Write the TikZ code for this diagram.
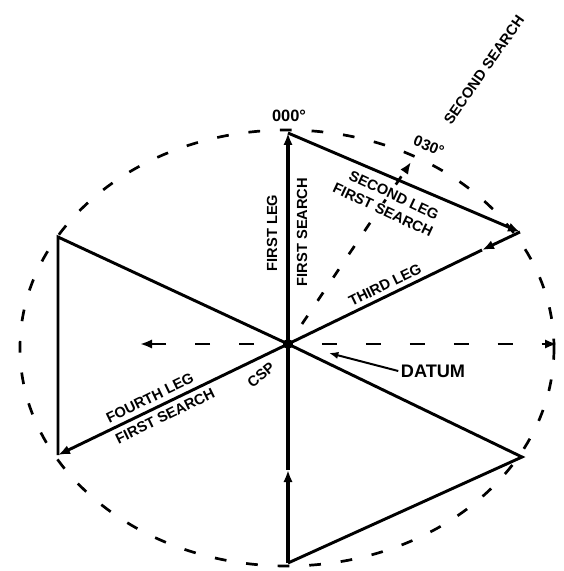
\documentclass[tikz,border=0pt]{standalone}
\usepackage{fontspec}
\setmainfont{Liberation Sans}
\usetikzlibrary{calc,arrows.meta}

\begin{document}
\begin{tikzpicture}[x=0.03cm,y=-0.03cm,line width=2.5pt,>={Latex[length=3.6mm,width=2.8mm]},
    rotulo/.style={font=\bfseries\fontsize{12.5}{13}\selectfont,inner sep=1pt},
    guia/.style={line width=2.3pt,dash pattern=on 12.8pt off 24.7pt,dash phase=8.5pt}]
  \useasboundingbox[fill=white] (0,0) rectangle (563,571);
  % circulo de busqueda
  \draw[line width=2.3pt,dash pattern=on 10pt off 17pt] (287,348) ellipse [x radius=267,y radius=218];
  % vertices del patron
  \coordinate (O) at (288,344);
  \coordinate (N) at (288,133);
  \coordinate (NE) at (520,232);
  \coordinate (SE) at (522,457);
  \coordinate (S) at (288,563);
  \coordinate (SW) at (58,455);
  \coordinate (NW) at (58,237);
  \coordinate (M1) at (288,470);
  \coordinate (M2) at (482,250);
  % rumbos en trazos
  \coordinate (E) at (557,344);
  \coordinate (W) at (140,344);
  \coordinate (B0) at (302,324);
  \coordinate (B) at (411,162);
  \draw[guia,->] (O) -- (E);
  \draw[guia,->] (O) -- (W);
  \draw[guia,dash pattern=on 8.5pt off 15.4pt,dash phase=0pt,->] (B0) -- (B);
  % rotulos
  \node[rotulo,font=\bfseries\fontsize{14}{14}\selectfont] (r000) at (289,116) {000°};
  \node[rotulo,font=\bfseries\fontsize{13}{13}\selectfont,rotate=-22] (r030) at (429,146) {030°};
  \node[rotulo,rotate=55] (segbus) at (484,70) {SECOND SEARCH};
  \node[rotulo,rotate=90] (leg1) at (272,233) {FIRST LEG};
  \node[rotulo,rotate=90] (bus1) at (302,232) {FIRST SEARCH};
  \node[rotulo,rotate=-25,fill=white] (leg2) at (394,195) {SECOND LEG};
  \node[rotulo,rotate=-25,fill=white] (bus2) at (383,210) {FIRST SEARCH};
  \node[rotulo,rotate=26] (leg3) at (385,285) {THIRD LEG};
  \node[rotulo,rotate=26] (leg4) at (150,398) {FOURTH LEG};
  \node[rotulo,rotate=26] (bus4) at (165,416) {FIRST SEARCH};
  \node[rotulo,rotate=40] (csp) at (261,375) {CSP};
  \node[rotulo,font=\bfseries\fontsize{15.5}{16}\selectfont] (datum) at (433,371) {DATUM};
  \coordinate (D) at (329,353);
  \draw[line width=1.7pt,-{Latex[length=2.8mm,width=2.2mm]}] (datum.west) -- (D);
  % primera busqueda
  \draw[line width=3pt,->] (S) -- (M1);
  \draw[line width=3pt,->] (M1) -- (N);
  \draw[->] (N) -- (NE);
  \draw[->] (NE) -- (M2);
  \draw (M2) -- (O);
  \draw[->] (O) -- (SW);
  \draw[line join=miter] (SW) -- (NW) -- (O) -- (SE) -- (S);
  \fill (O) circle [radius=5];
\end{tikzpicture}
\end{document}
